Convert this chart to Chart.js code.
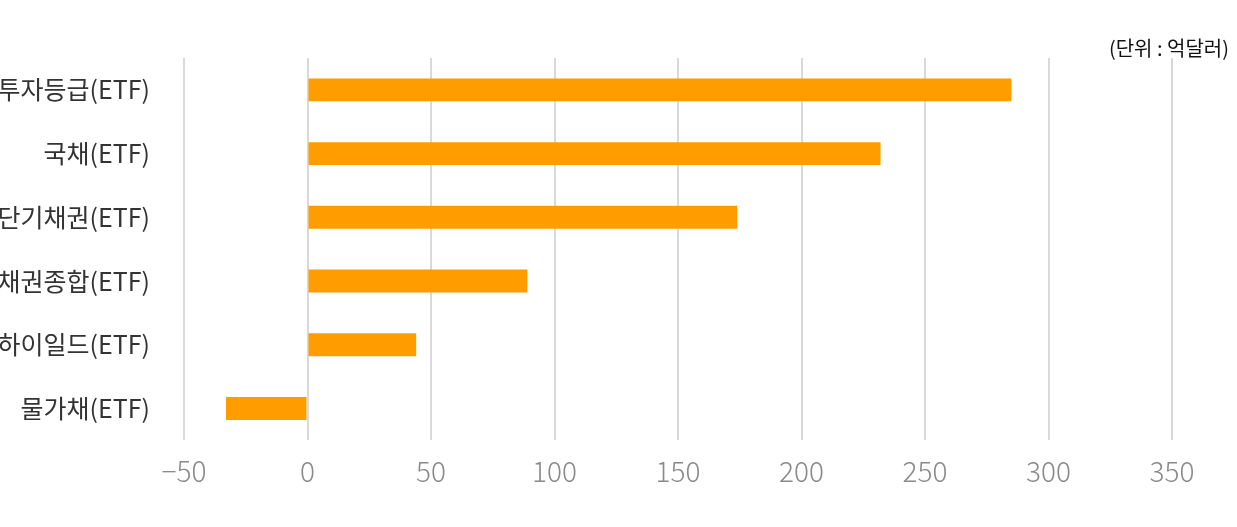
<!DOCTYPE html>
<html>
<head>
<meta charset="utf-8">
<script src="https://cdn.jsdelivr.net/npm/chart.js@4"></script>
<style>
html,body{margin:0;padding:0;background:#fff;}
#wrap{width:1237px;height:527px;}
</style>
</head>
<body>
<div id="wrap"><canvas id="c"></canvas></div>
<script>
const categories = ['투자등급(ETF)', '국채(ETF)', '단기채권(ETF)', '채권종합(ETF)', '하이일드(ETF)', '물가채(ETF)'];
const values = [285, 232, 174, 89, 44, -33];
const unitLabel = '(단위 : 억달러)';

const unitPlugin = {
  id: 'unit',
  afterDraw(chart) {
    const ctx = chart.ctx;
    ctx.save();
    ctx.font = '20px "Noto Sans CJK KR"';
    ctx.fillStyle = '#111';
    ctx.textAlign = 'right';
    ctx.textBaseline = 'middle';
    ctx.fillText(unitLabel, chart.width - 8, 48);
    ctx.restore();
  }
};

new Chart(document.getElementById('c'), {
  type: 'bar',
  data: {
    labels: categories,
    datasets: [{
      data: values,
      backgroundColor: '#FF9C00',
      barPercentage: 0.36,
      categoryPercentage: 1
    }]
  },
  plugins: [unitPlugin],
  options: {
    indexAxis: 'y',
    responsive: true,
    maintainAspectRatio: false,
    animation: false,
    layout: { padding: { top: 58, right: 65, bottom: 25, left: 0 } },
    plugins: {
      legend: { display: false },
      tooltip: { enabled: false }
    },
    scales: {
      x: {
        min: -50, max: 350,
        ticks: { stepSize: 50, color: '#8a8a8a', padding: 14,
          font: { family: 'Noto Sans CJK KR', size: 28, weight: '300' },
          callback: v => v < 0 ? '\u2212' + Math.abs(v) : v },
        grid: { color: '#d9d9d9', lineWidth: 2, drawTicks: false },
        border: { display: false }
      },
      y: {
        afterFit(scale) { scale.width = 184; },
        ticks: { color: '#333', padding: 26,
          font: { family: 'Noto Sans CJK KR', size: 25 } },
        grid: { display: false },
        border: { display: false }
      }
    }
  }
});
</script>
</body>
</html>
